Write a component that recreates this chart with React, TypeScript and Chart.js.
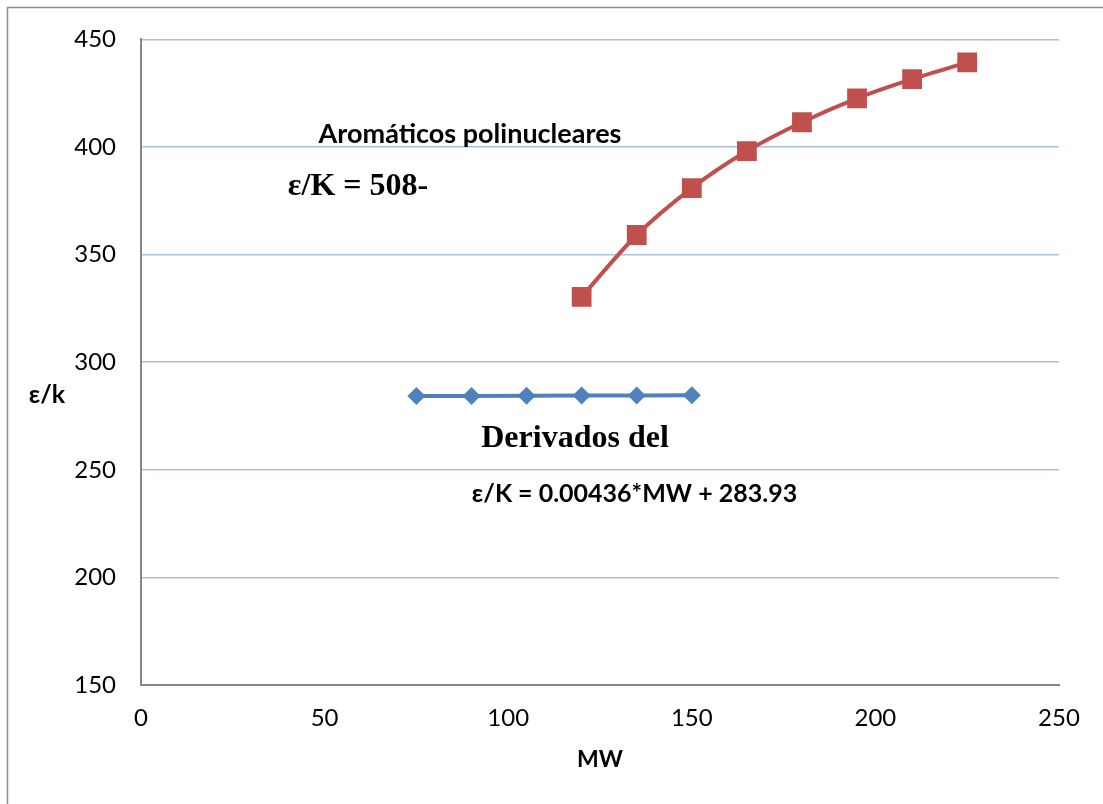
import React, { useEffect, useRef } from "react";
import { Chart, registerables } from "chart.js";

Chart.register(...registerables);

const derivadosMW = [75, 90, 105, 120, 135, 150];
const derivadosEK = [284.3, 284.3, 284.4, 284.5, 284.5, 284.6];
const aromaticosMW = [120, 135, 150, 165, 180, 195, 210, 225];
const aromaticosEK = [330.4, 359.1, 380.9, 398.1, 411.5, 422.6, 431.5, 439.3];
const xTicks = [0, 50, 100, 150, 200, 250];
const yTicks = [150, 200, 250, 300, 350, 400, 450];

const annotations = [
  { text: "Aromáticos polinucleares", x: 89.6, y: 405.9, font: "bold 27px Lato" },
  { text: "ε/K = 508-", x: 59.1, y: 381.4, font: "bold 32px 'Liberation Serif'" },
  { text: "Derivados del", x: 118.2, y: 264.5, font: "bold 32px 'Liberation Serif'" },
  { text: "ε/K = 0.00436*MW + 283.93", x: 134.4, y: 238.6, font: "bold 25px Lato" },
];

const textPlugin = {
  id: "textPlugin",
  afterDraw(chart: any) {
    const ctx = chart.ctx;
    const xs = chart.scales.x;
    const ys = chart.scales.y;
    ctx.save();
    // outer frame (left and top edges)
    ctx.strokeStyle = "#8c8c8c";
    ctx.lineWidth = 1.5;
    ctx.beginPath();
    ctx.moveTo(7.5, chart.height);
    ctx.lineTo(7.5, 7.5);
    ctx.lineTo(chart.width, 7.5);
    ctx.stroke();

    ctx.fillStyle = "#000";
    ctx.textAlign = "center";
    ctx.textBaseline = "middle";
    for (const a of annotations) {
      ctx.font = a.font;
      ctx.fillText(a.text, xs.getPixelForValue(a.x), ys.getPixelForValue(a.y));
    }
    ctx.font = "bold 25px Lato";
    ctx.fillText("ε/k", 47, ys.getPixelForValue(285));
    ctx.font = "bold 23px Lato";
    ctx.fillText("MW", (xs.left + xs.right) / 2, 760);
    ctx.restore();
  },
};

export default function App() {
  const ref = useRef<HTMLCanvasElement>(null);
  useEffect(() => {
    if (!ref.current) return;
    const chart = new Chart(ref.current, {
      type: "line",
      data: {
        datasets: [
          {
            label: "Derivados",
            data: derivadosMW.map((x, i) => ({ x, y: derivadosEK[i] })),
            borderColor: "#4f81bd",
            backgroundColor: "#4f81bd",
            borderWidth: 4,
            pointStyle: "rectRot",
            pointRadius: 9,
            pointBorderWidth: 0,
            tension: 0,
          },
          {
            label: "Aromáticos",
            data: aromaticosMW.map((x, i) => ({ x, y: aromaticosEK[i] })),
            borderColor: "#c0504d",
            backgroundColor: "#c0504d",
            borderWidth: 4,
            pointStyle: "rect",
            pointRadius: 14,
            pointBorderWidth: 0,
            tension: 0.3,
          },
        ],
      },
      options: {
        animation: false,
        responsive: false,
        layout: { padding: { left: 0, right: 44, top: 38, bottom: 0 } },
        plugins: { legend: { display: false }, tooltip: { enabled: false } },
        scales: {
          x: {
            type: "linear",
            min: 0,
            max: 250,
            afterFit: (s: any) => { s.height = 119; },
            afterBuildTicks: (s: any) => { s.ticks = xTicks.map((v) => ({ value: v })); },
            grid: { display: false, drawTicks: false },
            border: { display: true, color: "#868686", width: 2 },
            ticks: { color: "#000", font: { family: "Lato", size: 24 }, padding: 19, maxRotation: 0 },
          },
          y: {
            type: "linear",
            min: 150,
            max: 450,
            afterFit: (s: any) => { s.width = 141; },
            afterBuildTicks: (s: any) => { s.ticks = yTicks.map((v) => ({ value: v })); },
            grid: { color: "#a7c0e3", lineWidth: 1.5, drawTicks: false },
            border: { display: true, color: "#868686", width: 2 },
            ticks: { color: "#000", font: { family: "Lato", size: 24 }, padding: 25 },
          },
        },
      },
      plugins: [textPlugin],
    });
    let alive = true;
    if ((document as any).fonts && (document as any).fonts.ready) {
      (document as any).fonts.ready.then(() => { if (alive) chart.update(); });
    }
    return () => { alive = false; chart.destroy(); };
  }, []);
  return (
    <div style={{ position: "absolute", left: 0, top: 0, width: 1103, height: 804, background: "#fff" }}>
      <canvas ref={ref} width={1103} height={804} style={{ display: "block" }} />
    </div>
  );
}
